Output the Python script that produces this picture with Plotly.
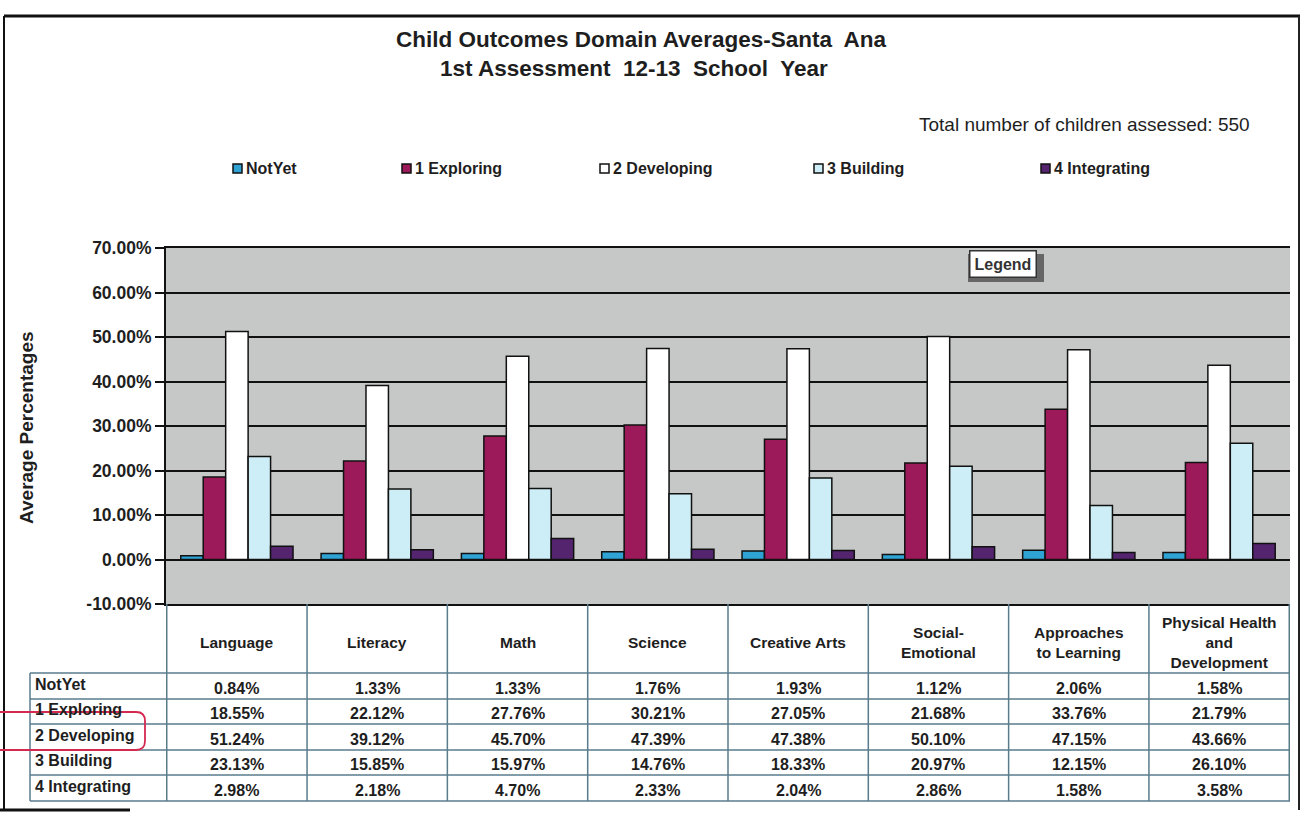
import plotly.graph_objects as go

W, H = 1304, 814

categories = ["Language", "Literacy", "Math", "Science", "Creative Arts",
              "Social-Emotional", "Approaches to Learning", "Physical Health and Development"]
header_labels = ["Language", "Literacy", "Math", "Science", "Creative Arts",
                 "Social-<br>Emotional", "Approaches<br>to Learning", "Physical Health<br>and<br>Development"]
series_names = ["NotYet", "1 Exploring", "2 Developing", "3 Building", "4 Integrating"]
not_yet = [0.84, 1.33, 1.33, 1.76, 1.93, 1.12, 2.06, 1.58]
exploring = [18.55, 22.12, 27.76, 30.21, 27.05, 21.68, 33.76, 21.79]
developing = [51.24, 39.12, 45.70, 47.39, 47.38, 50.10, 47.15, 43.66]
building = [23.13, 15.85, 15.97, 14.76, 18.33, 20.97, 12.15, 26.10]
integrating = [2.98, 2.18, 4.70, 2.33, 2.04, 2.86, 1.58, 3.58]
series_values = [not_yet, exploring, developing, building, integrating]
y_ticks = [-10, 0, 10, 20, 30, 40, 50, 60, 70]

colors = ["#2fa3d3", "#9c1a5a", "#ffffff", "#cdeef6", "#55246f"]
FONT = "Liberation Sans, Arial, sans-serif"
TXT = "#1e1e1e"

def px(x):
    return x / W

def py(y):
    return 1 - y / H

def text_ann(x, y, text, size, xanchor="center", xref="paper", **kw):
    d = dict(x=x, y=y, xref=xref, yref="paper", showarrow=False,
             xanchor=xanchor, yanchor="middle", text=text,
             font=dict(size=size, family=FONT, color=TXT))
    d.update(kw)
    return d

fig = go.Figure()
for name, vals, col in zip(series_names, series_values, colors):
    fig.add_trace(go.Bar(x=categories, y=vals, name=name,
                         marker=dict(color=col, line=dict(color="#111111", width=1.5)),
                         showlegend=False))

plot_l, plot_r, plot_t, plot_b = 166, 1290, 248, 604

fig.update_layout(
    width=W, height=H,
    margin=dict(l=0, r=0, t=0, b=0),
    paper_bgcolor="white",
    plot_bgcolor="#c6c8c8",
    barmode="group", bargap=0.2, bargroupgap=0,
    font=dict(family=FONT, color=TXT),
    xaxis=dict(domain=[px(plot_l), px(plot_r)], showticklabels=False, ticks="",
               showline=True, linecolor="#111", linewidth=2, mirror=True,
               showgrid=False, automargin=False),
    yaxis=dict(domain=[py(plot_b), py(plot_t)], range=[-10, 70],
               tickvals=y_ticks, ticktext=[f"<b>{v:.2f}%</b>" for v in y_ticks],
               tickfont=dict(size=17.5, family=FONT, color=TXT),
               ticks="outside", ticklen=9, tickwidth=2, tickcolor="#111",
               showline=True, linecolor="#111", linewidth=2,
               showgrid=True, gridcolor="#111", gridwidth=2,
               zeroline=True, zerolinecolor="#111", zerolinewidth=2,
               automargin=False),
)

shapes = []
ann = []

# Titles
ann.append(text_ann(px(641), py(40), "<b>Child Outcomes Domain Averages-Santa  Ana</b>", 22.5))
ann.append(text_ann(px(634), py(68), "<b>1st Assessment  12-13  School  Year</b>", 22.5))
ann.append(text_ann(px(1252), py(125), "Total number of children assessed: 550", 19, xanchor="right"))

# Y axis title
ann.append(text_ann(px(26), py(428), "<b>Average Percentages</b>", 19, textangle=-90))

# Custom legend row
legend_x = [233, 402, 600, 814, 1041]
for name, col, lx in zip(series_names, colors, legend_x):
    shapes.append(dict(type="rect", xref="paper", yref="paper",
                       x0=px(lx), x1=px(lx + 9), y0=py(173), y1=py(164),
                       fillcolor=col, line=dict(color="#111", width=1.5)))
    ann.append(text_ann(px(lx + 11), py(169), f"<b>{name}</b>", 16, xanchor="left"))

# "Legend" box with shadow
shapes.append(dict(type="rect", xref="paper", yref="paper",
                   x0=px(968), x1=px(1044), y0=py(282), y1=py(254),
                   fillcolor="#666", line=dict(width=0)))
ann.append(dict(x=px(1003), y=py(264), xref="paper", yref="paper", showarrow=False,
                xanchor="center", yanchor="middle",
                text="<b>Legend</b>", bgcolor="white", bordercolor="#333", borderwidth=1.5,
                borderpad=4, font=dict(size=16, family=FONT, color="#333")))

# Table grid
line_col = "#587c8c"
row_lines = [673, 699, 724, 750, 775, 801]
tab_l = 30
for ry in row_lines:
    shapes.append(dict(type="line", xref="paper", yref="paper",
                       x0=px(tab_l), x1=px(plot_r), y0=py(ry), y1=py(ry),
                       line=dict(color=line_col, width=1.5)))
shapes.append(dict(type="line", xref="paper", yref="paper",
                   x0=px(tab_l), x1=px(tab_l), y0=py(673), y1=py(801),
                   line=dict(color=line_col, width=1.5)))
for i in range(len(categories) + 1):
    shapes.append(dict(type="line", xref="x", yref="paper",
                       x0=i - 0.5, x1=i - 0.5, y0=py(plot_b), y1=py(801),
                       line=dict(color=line_col, width=1.5)))

# Header labels
for i, lab in enumerate(header_labels):
    ann.append(text_ann(i, py(642), f"<b>{lab}</b>", 15.5, xref="x"))

# Row labels and values
for r, (name, vals) in enumerate(zip(series_names, series_values)):
    cy = (row_lines[r] + row_lines[r + 1]) / 2
    ann.append(text_ann(px(tab_l + 3), py(cy - 2), f"<b>{name}</b>", 16, xanchor="left"))
    for i, v in enumerate(vals):
        ann.append(text_ann(i, py(cy + 2), f"<b>{v:.2f}%</b>", 16, xref="x"))

# Page frame
shapes.append(dict(type="line", xref="paper", yref="paper", x0=px(4), x1=px(1300),
                   y0=py(16), y1=py(16), line=dict(color="#111", width=3)))
shapes.append(dict(type="line", xref="paper", yref="paper", x0=px(4), x1=px(4),
                   y0=py(16), y1=py(810), line=dict(color="#111", width=2)))
shapes.append(dict(type="line", xref="paper", yref="paper", x0=px(1299), x1=px(1299),
                   y0=py(16), y1=py(810), line=dict(color="#222", width=2)))
shapes.append(dict(type="line", xref="paper", yref="paper", x0=px(0), x1=px(130),
                   y0=py(810), y1=py(810), line=dict(color="#111", width=3)))

# Red hand-drawn highlight around "2 Developing"
shapes.append(dict(type="path", xref="paper", yref="paper",
                   path=f"M {px(0)},{py(712)} L {px(136)},{py(712)} "
                        f"Q {px(145)},{py(712)} {px(145)},{py(721)} "
                        f"L {px(145)},{py(741)} Q {px(145)},{py(750)} {px(136)},{py(750)} "
                        f"L {px(0)},{py(750)}",
                   line=dict(color="#d42a52", width=1.8)))

fig.update_layout(shapes=shapes, annotations=ann)
fig.write_html("out.html")
